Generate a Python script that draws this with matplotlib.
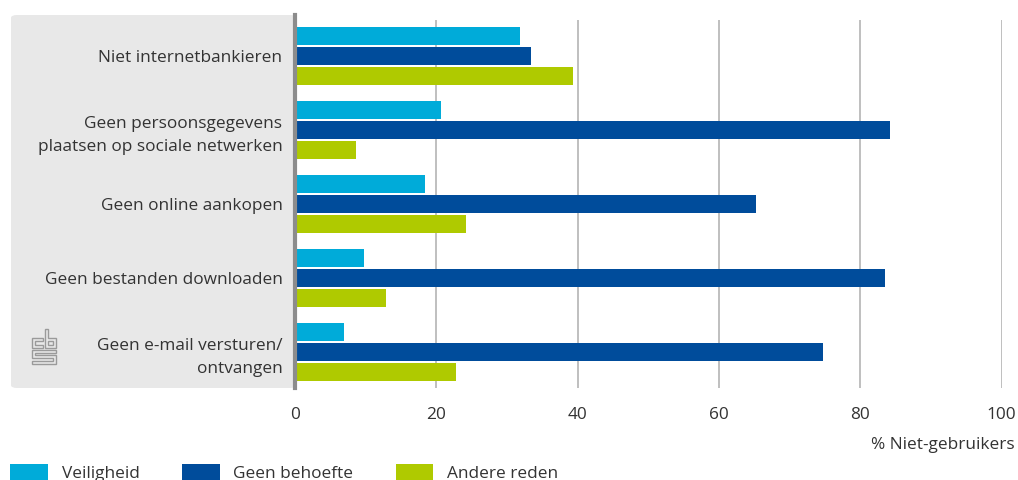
import matplotlib.pyplot as plt
import numpy as np
from matplotlib.patches import FancyBboxPatch, Polygon

categories = [
    "Niet internetbankieren",
    "Geen persoonsgegevens\nplaatsen op sociale netwerken",
    "Geen online aankopen",
    "Geen bestanden downloaden",
    "Geen e-mail versturen/\nontvangen",
]
series = ["Veiligheid", "Geen behoefte", "Andere reden"]
veiligheid = [31.8, 20.7, 18.4, 9.8, 6.9]
geen_behoefte = [33.4, 84.2, 65.2, 83.5, 74.7]
andere_reden = [39.3, 8.6, 24.2, 12.9, 22.8]
xticks = [0, 20, 40, 60, 80, 100]
xlabel = "% Niet-gebruikers"

colors = ["#00abd9", "#004c9b", "#afca00"]
text_color = "#333333"
fs = 12.4

plt.rcParams["font.family"] = ["Open Sans", "DejaVu Sans"]

W, H = 1018, 480
fig = plt.figure(figsize=(W / 100, H / 100), dpi=100)

# gray label panel behind the category names
panel = FancyBboxPatch((11 / W, 1 - 388 / H), (296 - 11) / W, (388 - 15) / H,
                       boxstyle="round,pad=0,rounding_size=0.006",
                       transform=fig.transFigure, facecolor="#e8e8e8",
                       edgecolor="none", zorder=-1)
fig.patches.append(panel)

ax = fig.add_axes([295 / W, 1 - 388 / H, (1001.5 - 295) / W, (388 - 15) / H])
ax.set_facecolor("none")

y = np.arange(len(categories))
step = 0.27
h = 0.243
for i, (name, vals) in enumerate(zip(series, [veiligheid, geen_behoefte, andere_reden])):
    ax.barh(y + (i - 1) * step, vals, height=h, color=colors[i], label=name, zorder=3)

ax.set_xlim(0, 100)
ax.set_ylim(4.49, -0.554)
ax.set_xticks(xticks)
ax.set_xticklabels([str(t) for t in xticks])
ax.set_yticks(y)
ax.set_yticklabels(categories, linespacing=1.6)
ax.tick_params(axis="both", length=0, labelsize=fs, colors=text_color)
ax.tick_params(axis="y", pad=9)
ax.tick_params(axis="x", pad=14)

ax.vlines(xticks[1:], -0.49, 4.49, color="#b4b4b4", linewidth=1.2, zorder=1)

for s in ["top", "right", "bottom"]:
    ax.spines[s].set_visible(False)
ax.spines["left"].set_color("#8c8c8c")
ax.spines["left"].set_linewidth(3)
ax.spines["left"].set_zorder(4)

fig.text(1015 / W, 1 - 445 / H, xlabel, ha="right", va="center",
         fontsize=fs, color=text_color)

fig.legend(loc="upper left", bbox_to_anchor=(10 / W, 1 - 464 / H), ncol=3,
           frameon=False, fontsize=fs, handlelength=2.2, handleheight=1.1,
           handletextpad=0.8, columnspacing=2.45, labelcolor=text_color,
           borderaxespad=0, borderpad=0)

# simple outline of the cbs logo
ox, oy = 32, 329
logo_shapes = [
    [(11, 9), (0, 9), (0, 19), (11, 19), (11, 16), (3, 16), (3, 12), (11, 12)],
    [(13, 0), (16, 0), (16, 9), (24, 9), (24, 19), (13, 19)],
    [(16, 12), (21, 12), (21, 16), (16, 16)],
    [(24, 21), (0, 21), (0, 29), (21, 29), (21, 32), (0, 32), (0, 35),
     (24, 35), (24, 26), (3, 26), (3, 24), (24, 24)],
]
for shape in logo_shapes:
    pts = [((ox + px) / W, 1 - (oy + py) / H) for px, py in shape]
    fig.patches.append(Polygon(pts, closed=True, fill=False, edgecolor="#9a9a9a",
                               linewidth=1.0, transform=fig.transFigure, zorder=2))

fig.savefig("out.png", dpi=100)
